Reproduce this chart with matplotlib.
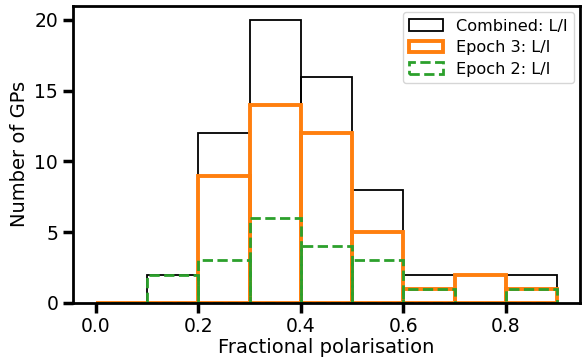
import matplotlib
matplotlib.use("Agg")
import matplotlib.pyplot as plt
import numpy as np

bin_edges = [0.0, 0.1, 0.2, 0.3, 0.4, 0.5, 0.6, 0.7, 0.8, 0.9]
combined = [0, 2, 12, 20, 16, 8, 2, 2, 2]
epoch3 = [0, 0, 9, 14, 12, 5, 1, 2, 1]
epoch2 = [0, 2, 3, 6, 4, 3, 1, 0, 1]

fig = plt.figure(figsize=(5.82, 3.64), dpi=100)
ax = fig.add_axes([0.125, 0.168, 0.872, 0.816])

centers = [(a + b) / 2 for a, b in zip(bin_edges[:-1], bin_edges[1:])]
ax.hist(centers, bins=bin_edges, weights=combined, histtype='bar', fill=False,
        edgecolor='black', lw=1.3, label='Combined: L/I')
ax.hist(centers, bins=bin_edges, weights=epoch3, histtype='bar', fill=False,
        edgecolor='#ff7f0e', lw=2.8, label='Epoch 3: L/I')
ax.hist(centers, bins=bin_edges, weights=epoch2, histtype='bar', fill=False,
        edgecolor='#2ca02c', lw=2.0, ls='--', label='Epoch 2: L/I')

ax.set_xticks([0.0, 0.2, 0.4, 0.6, 0.8])
ax.set_yticks([0, 5, 10, 15, 20])
ax.tick_params(labelsize=13.5, width=2.5, length=7)
for s in ax.spines.values():
    s.set_linewidth(2.0)
ax.set_xlabel('Fractional polarisation', fontsize=14, labelpad=1)
ax.set_ylabel('Number of GPs', fontsize=14, labelpad=4)
ax.legend(loc='upper right', fontsize=11.6, handlelength=2.1, handletextpad=0.8,
          borderaxespad=0.4, borderpad=0.4, labelspacing=0.4, fancybox=True)

fig.savefig('out.png', dpi=100)
